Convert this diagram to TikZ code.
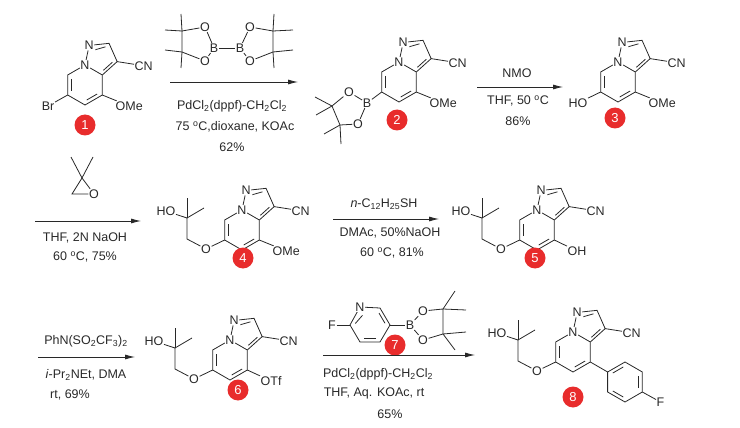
\documentclass[tikz,border=0pt]{standalone}
\usepackage{fontspec}
\setmainfont{Liberation Sans}
\usetikzlibrary{positioning}
\usetikzlibrary{arrows.meta}
\usetikzlibrary{calc}
\definecolor{badgered}{RGB}{232,44,44}
\definecolor{inkgray}{RGB}{40,40,40}
\tikzset {
  % atom labels
  atom/.style = {inner sep=0.5pt, font=\fontsize{12.5}{14}\selectfont, text=inkgray},
  % bonds
  bond/.style = {draw=inkgray, line width=0.8pt},
  dbl/.style = {bond, shorten >=2pt, shorten <=2pt},
  % compound numbers
  badge/.style = {circle, fill=badgered, text=white, minimum size=21pt, inner sep=0pt,
    font=\fontsize{13}{14}\selectfont},
  % reaction arrows and conditions
  react/.style = {draw=inkgray, line width=0.8pt, -{Latex[length=10pt,width=5pt]}},
  cond/.style = {inner sep=1pt, font=\fontsize{12.5}{14}\selectfont, text=inkgray},
}
% pyrazolo[1,5-a]pyridine-3-carbonitrile core, hexagon centre at origin
\newcommand{\pyrcore}{%
  \node[atom] (nb) at (0,1) {N};
  \node[atom] (n1) at (0.208,1.978) {N};
  \coordinate (c7) at (-0.866,0.5);
  \coordinate (c6) at (-0.866,-0.5);
  \coordinate (c5) at (0,-1);
  \coordinate (c4) at (0.866,-0.5);
  \coordinate (c3a) at (0.866,0.5);
  \coordinate (c2) at (1.203,2.083);
  \coordinate (c3) at (1.609,1.169);
  \coordinate (hc) at (0,0);
  \coordinate (pc) at (0.777,1.346);
  \node[atom, anchor=west] (cn) at (2.45,0.96) {CN};
  \draw[bond] (nb) -- (c7) -- (c6) -- (c5) -- (c4) -- (c3a) -- (nb);
  \draw[bond] (nb) -- (n1);
  \draw[bond] (n1) -- (c2) -- (c3) -- (c3a);
  \draw[bond] (c3) -- (cn);
  \draw[dbl] ($(c7)!.2!(hc)$) -- ($(c6)!.2!(hc)$);
  \draw[dbl] ($(c5)!.2!(hc)$) -- ($(c4)!.2!(hc)$);
  \draw[dbl] ($(c3)!.2!(pc)$) -- ($(c3a)!.2!(pc)$);
  \draw[dbl] ($(c2)!.2!(pc)$) -- ($(n1.center)!.38!(pc)$);
}
% HOCH2C(Me)2CH2O- side chain on C6
\newcommand{\sidechain}{%
  \node[atom] (oe) at (-1.8,-0.95) {O};
  \coordinate (ch2) at (-2.75,-0.45);
  \coordinate (cq) at (-2.75,0.6);
  \node[atom, anchor=east] (ho) at (-3.3,0.95) {HO};
  \coordinate (me1) at (-1.9,1.1);
  \coordinate (me2) at (-2.75,1.6);
  \draw[bond] (c6) -- (oe) -- (ch2) -- (cq) -- (ho);
  \draw[bond] (cq) -- (me1);
  \draw[bond] (cq) -- (me2);
}
\newcommand{\meo}{%
  \node[atom, anchor=west] (ome) at (1.5,-1.05) {OMe};
  \draw[bond] (c4) -- (ome);
}
\begin{document}
\begin{tikzpicture}[x=1pt, y=1pt]
  \useasboundingbox (0,0) rectangle (740,-428);

  % ---- compound 1
  \begin{scope}[shift={(85pt,-85pt)}, x=20pt, y=20pt]
    \pyrcore
    \meo
    \node[atom, anchor=east] (br) at (-1.5,-1.05) {Br};
    \draw[bond] (c6) -- (br);
    \node[badge] (b1) at (0,-2.0) {1};
  \end{scope}

  % ---- B2pin2
  \node[atom] (ba) at (214,-48) {B};
  \node[atom] (bb) at (240,-48) {B};
  \node[atom] (oa1) at (205,-27) {O};
  \node[atom] (oa2) at (205,-61) {O};
  \node[atom] (ob1) at (250,-27) {O};
  \node[atom] (ob2) at (250,-61) {O};
  \coordinate (pa1) at (182,-31);
  \coordinate (pa2) at (182,-52);
  \coordinate (pb1) at (273,-31);
  \coordinate (pb2) at (273,-52);
  \draw[bond] (ba) -- (bb);
  \draw[bond] (ba) -- (oa1) -- (pa1) -- (pa2) -- (oa2) -- (ba);
  \draw[bond] (bb) -- (ob1) -- (pb1) -- (pb2) -- (ob2) -- (bb);
  \draw[bond] (pa1) -- (165,-30);
  \draw[bond] (pa2) -- (165,-50);
  \draw[bond] (pa1) -- (181,-14);
  \draw[bond] (pa2) -- (181,-68);
  \draw[bond] (pb1) -- (293,-30);
  \draw[bond] (pb2) -- (293,-50);
  \draw[bond] (pb1) -- (274,-14);
  \draw[bond] (pb2) -- (274,-68);

  % ---- arrow 1
  \coordinate (a1s) at (170,-82);
  \coordinate (a1e) at (298,-82);
  \draw[react] (a1s) -- (a1e);
  \node[cond] (a1c1) at (232,-106) {PdCl\textsubscript{2}(dppf)-CH\textsubscript{2}Cl\textsubscript{2}};
  \node[cond] (a1c2) at (235,-127) {75 \textsuperscript{o}C,dioxane, KOAc};
  \node[cond] (a1c3) at (232,-147) {62\%};

  % ---- compound 2
  \begin{scope}[shift={(399pt,-82pt)}, x=20pt, y=20pt]
    \pyrcore
    \meo
    \node[atom] (bp) at (-1.6,-1.05) {B};
    \node[atom] (op1) at (-2.5,-0.5) {O};
    \node[atom] (op2) at (-2.05,-2.1) {O};
    \coordinate (ca) at (-3.35,-1.2);
    \coordinate (cb) at (-2.95,-2.15);
    \draw[bond] (c6) -- (bp);
    \draw[bond] (bp) -- (op1) -- (ca) -- (cb) -- (op2) -- (bp);
    \draw[bond] (ca) -- (-4.2,-0.75);
    \draw[bond] (ca) -- (-4.15,-1.65);
    \draw[bond] (cb) -- (-3.75,-2.6);
    \draw[bond] (cb) -- (-2.9,-3.1);
    \node[badge] (b2) at (-0.1,-1.9) {2};
  \end{scope}

  % ---- arrow 2
  \coordinate (a2s) at (477,-87);
  \coordinate (a2e) at (563,-87);
  \draw[react] (a2s) -- (a2e);
  \node[cond] (a2c0) at (517,-73) {NMO};
  \node[cond] (a2c1) at (518,-101) {THF, 50 \textsuperscript{o}C};
  \node[cond] (a2c2) at (518,-121) {86\%};

  % ---- compound 3
  \begin{scope}[shift={(618pt,-82pt)}, x=20pt, y=20pt]
    \pyrcore
    \meo
    \node[atom, anchor=east] (oh3) at (-1.5,-1.05) {HO};
    \draw[bond] (c6) -- (oh3);
    \node[badge] (b3) at (-0.15,-1.8) {3};
  \end{scope}

  % ---- epoxide
  \coordinate (ep1) at (82,-178);
  \coordinate (ep2) at (72,-194);
  \node[atom] (epo) at (94,-194) {O};
  \draw[bond] (ep1) -- (ep2) -- (epo) -- (ep1);
  \draw[bond] (ep1) -- (71,-157);
  \draw[bond] (ep1) -- (93,-157);

  % ---- arrow 3
  \coordinate (a3s) at (35,-221);
  \coordinate (a3e) at (141,-221);
  \draw[react] (a3s) -- (a3e);
  \node[cond] (a3c1) at (85,-238) {THF, 2N NaOH};
  \node[cond] (a3c2) at (85,-257) {60 \textsuperscript{o}C, 75\%};

  % ---- compound 4
  \begin{scope}[shift={(242pt,-230pt)}, x=20pt, y=20pt]
    \pyrcore
    \meo
    \sidechain
    \node[badge] (b4) at (0.05,-1.4) {4};
  \end{scope}

  % ---- arrow 4
  \coordinate (a4s) at (333,-219);
  \coordinate (a4e) at (439,-219);
  \draw[react] (a4s) -- (a4e);
  \node[cond] (a4c0) at (384,-204) {\textit{n}-C\textsubscript{12}H\textsubscript{25}SH};
  \node[cond] (a4c1) at (390,-233) {DMAc, 50\%NaOH};
  \node[cond] (a4c2) at (392,-253) {60 \textsuperscript{o}C, 81\%};

  % ---- compound 5
  \begin{scope}[shift={(537pt,-230pt)}, x=20pt, y=20pt]
    \pyrcore
    \node[atom, anchor=west] (oh5) at (1.5,-1.05) {OH};
    \draw[bond] (c4) -- (oh5);
    \sidechain
    \node[badge] (b5) at (-0.1,-1.4) {5};
  \end{scope}

  % ---- arrow 5
  \coordinate (a5s) at (38,-357);
  \coordinate (a5e) at (135,-357);
  \draw[react] (a5s) -- (a5e);
  \node[cond] (a5c0) at (86,-341) {PhN(SO\textsubscript{2}CF\textsubscript{3})\textsubscript{2}};
  \node[cond] (a5c1) at (86,-375) {\textit{i}-Pr\textsubscript{2}NEt, DMA};
  \node[cond] (a5c2) at (70,-395) {rt, 69\%};

  % ---- compound 6
  \begin{scope}[shift={(230pt,-360pt)}, x=20pt, y=20pt]
    \pyrcore
    \node[atom, anchor=west] (otf) at (1.5,-1.05) {OTf};
    \draw[bond] (c4) -- (otf);
    \sidechain
    \node[badge] (b6) at (0.4,-1.5) {6};
  \end{scope}

  % ---- reagent 7
  \node[atom] (fp) at (332,-325) {F};
  \coordinate (q2) at (350,-325);
  \node[atom] (qn) at (360,-307) {N};
  \coordinate (q6) at (380,-308);
  \coordinate (q5) at (390,-325);
  \coordinate (q4) at (380,-342);
  \coordinate (q3) at (360,-342);
  \coordinate (qc) at (370,-325);
  \draw[bond] (q2) -- (qn) -- (q6) -- (q5) -- (q4) -- (q3) -- (q2);
  \draw[dbl] ($(q2)!.2!(qc)$) -- ($(qn.center)!.38!(qc)$);
  \draw[dbl] ($(q6)!.2!(qc)$) -- ($(q5)!.2!(qc)$);
  \draw[dbl] ($(q4)!.2!(qc)$) -- ($(q3)!.2!(qc)$);
  \draw[bond] (fp) -- (q2);
  \node[atom] (bq) at (410,-325) {B};
  \node[atom] (oq1) at (423,-311) {O};
  \node[atom] (oq2) at (423,-340) {O};
  \coordinate (pq1) at (443,-309);
  \coordinate (pq2) at (443,-334);
  \draw[bond] (q5) -- (bq);
  \draw[bond] (bq) -- (oq1) -- (pq1) -- (pq2) -- (oq2) -- (bq);
  \draw[bond] (pq1) -- (455,-291);
  \draw[bond] (pq1) -- (466,-310);
  \draw[bond] (pq2) -- (466,-332);
  \draw[bond] (pq2) -- (455,-350);
  \node[badge] (b7) at (395,-345) {7};

  % ---- arrow 6
  \coordinate (a6s) at (323,-355);
  \coordinate (a6e) at (475,-355);
  \draw[react] (a6s) -- (a6e);
  \node[cond] (a6c1) at (378,-374) {PdCl\textsubscript{2}(dppf)-CH\textsubscript{2}Cl\textsubscript{2}};
  \node[cond] (a6c2) at (374,-393) {THF, Aq. KOAc, rt};
  \node[cond] (a6c3) at (390,-414) {65\%};

  % ---- compound 8
  \begin{scope}[shift={(573pt,-352pt)}, x=20pt, y=20pt]
    \pyrcore
    \sidechain
    \coordinate (ar1) at (1.732,-1.0);
    \coordinate (ar2) at (1.732,-2.0);
    \coordinate (ar3) at (2.6,-2.5);
    \coordinate (ar4) at (3.466,-2.0);
    \coordinate (ar5) at (3.466,-1.0);
    \coordinate (ar6) at (2.6,-0.5);
    \coordinate (arc) at (2.6,-1.5);
    \node[atom, anchor=west] (fa) at (4.15,-2.5) {F};
    \draw[bond] (c4) -- (ar1);
    \draw[bond] (ar1) -- (ar2) -- (ar3) -- (ar4) -- (ar5) -- (ar6) -- (ar1);
    \draw[dbl] ($(ar2)!.2!(arc)$) -- ($(ar3)!.2!(arc)$);
    \draw[dbl] ($(ar4)!.2!(arc)$) -- ($(ar5)!.2!(arc)$);
    \draw[dbl] ($(ar6)!.2!(arc)$) -- ($(ar1)!.2!(arc)$);
    \draw[bond] (ar4) -- (fa);
    \node[badge] (b8) at (0,-2.25) {8};
  \end{scope}
\end{tikzpicture}
\end{document}
